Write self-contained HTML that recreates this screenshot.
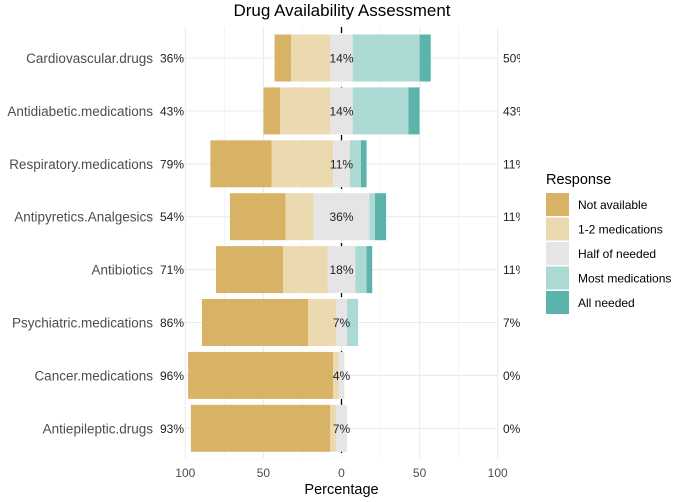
<!DOCTYPE html>
<html><head><meta charset="utf-8"><style>
body{margin:0;background:#fff;font-family:"Liberation Sans",sans-serif;}
svg text{font-family:"Liberation Sans",sans-serif;}
</style></head><body>
<svg id="chart" width="676" height="497" xmlns="http://www.w3.org/2000/svg">
<defs><clipPath id="rc"><rect x="0" y="0" width="520" height="497"/></clipPath></defs>
<text x="342" y="16" text-anchor="middle" font-size="17" fill="#000">Drug Availability Assessment</text>
<g id="grid"></g><g id="axis"></g><g id="bars"></g><g id="labels" clip-path="url(#rc)"></g><g id="legend"></g>
</svg>
<script>
const categories=["Cardiovascular.drugs","Antidiabetic.medications","Respiratory.medications","Antipyretics.Analgesics","Antibiotics","Psychiatric.medications","Cancer.medications","Antiepileptic.drugs"];
const responses=["Not available","1-2 medications","Half of needed","Most medications","All needed"];
const notAvailable=[10.7,10.7,39.3,35.7,42.9,67.9,92.9,89.3];
const oneTwo=[25,32.1,39.3,17.9,28.5,17.9,3.5,3.6];
const half=[14.3,14.3,10.7,35.7,17.9,7.1,3.6,7.1];
const most=[42.9,35.7,7.1,3.6,7.1,7.1,0,0];
const allNeeded=[7.1,7.1,3.6,7.1,3.6,0,0,0];
const xTicks=[-100,-50,0,50,100];
const tickLabels=["100","50","0","50","100"];
const colors=["#D9B365","#EBD9B0","#E5E5E5","#ABDAD5","#5AB4AC"];
const NS="http://www.w3.org/2000/svg";
const x=v=>341.5+v*1.562;
const y=i=>58+i*52.9;
const bh=47;
function mk(tag,attrs,parent,txt){const e=document.createElementNS(NS,tag);for(const k in attrs)e.setAttribute(k,attrs[k]);if(txt!==undefined)e.textContent=txt;document.getElementById(parent).appendChild(e);return e;}
for(let v=-100;v<=100;v+=25){const g=mk('line',{x1:x(v),x2:x(v),y1:27,y2:458,stroke:'#ebebeb','stroke-width':v%50===0?1.1:0.5},'grid');

}
categories.forEach((c,i)=>{const g=mk('line',{x1:185,x2:498,y1:y(i),y2:y(i),stroke:'#ebebeb','stroke-width':1.1},'grid');

});
categories.forEach((c,i)=>{
 const series=[notAvailable[i],oneTwo[i],half[i],most[i],allNeeded[i]];
 let start=-(series[0]+series[1]+series[2]/2);
 series.forEach((v,j)=>{ if(v>0){const r=mk('rect',{x:x(start),y:y(i)-bh/2,width:v*1.562,height:bh,fill:colors[j]},'bars');
  
  }
  start+=v;});
 const lo=Math.round(series[0]+series[1]), hi=Math.round(series[3]+series[4]), mid=Math.round(series[2]);
 const t1=mk('text',{x:153,y:y(i)+5,'text-anchor':'end','font-size':13.5,fill:'#4d4d4d'},'labels',c);
 
 
 const t2=mk('text',{x:160,y:y(i)+4.5,'font-size':12,fill:'#222'},'labels',lo+'%');
 
 
 const t3=mk('text',{x:x(0),y:y(i)+4.5,'text-anchor':'middle','font-size':12,fill:'#222'},'labels',mid+'%');
 
 
 const t4=mk('text',{x:503,y:y(i)+4.5,'font-size':12,fill:'#222'},'labels',hi+'%');
 
 
});
const zl=mk('line',{x1:x(0),x2:x(0),y1:27,y2:458,stroke:'#000','stroke-width':1.3,'stroke-dasharray':'6,6'},'axis');


xTicks.forEach((v,i)=>{const t=mk('text',{x:x(v),y:477,'text-anchor':'middle','font-size':12,fill:'#4d4d4d'},'labels',tickLabels[i]);

});
const xt=mk('text',{x:x(0),y:494,'text-anchor':'middle','font-size':14.5,fill:'#000'},'labels','Percentage');


const lt=mk('text',{x:546,y:184,'font-size':14.5,fill:'#000'},'legend','Response');


responses.forEach((r,i)=>{const k=mk('rect',{x:546,y:193+i*24.5,width:23,height:23,fill:colors[i]},'legend');


const t=mk('text',{x:578,y:209+i*24.5,'font-size':12,fill:'#000'},'legend',r);

});
</script>
</body></html>
